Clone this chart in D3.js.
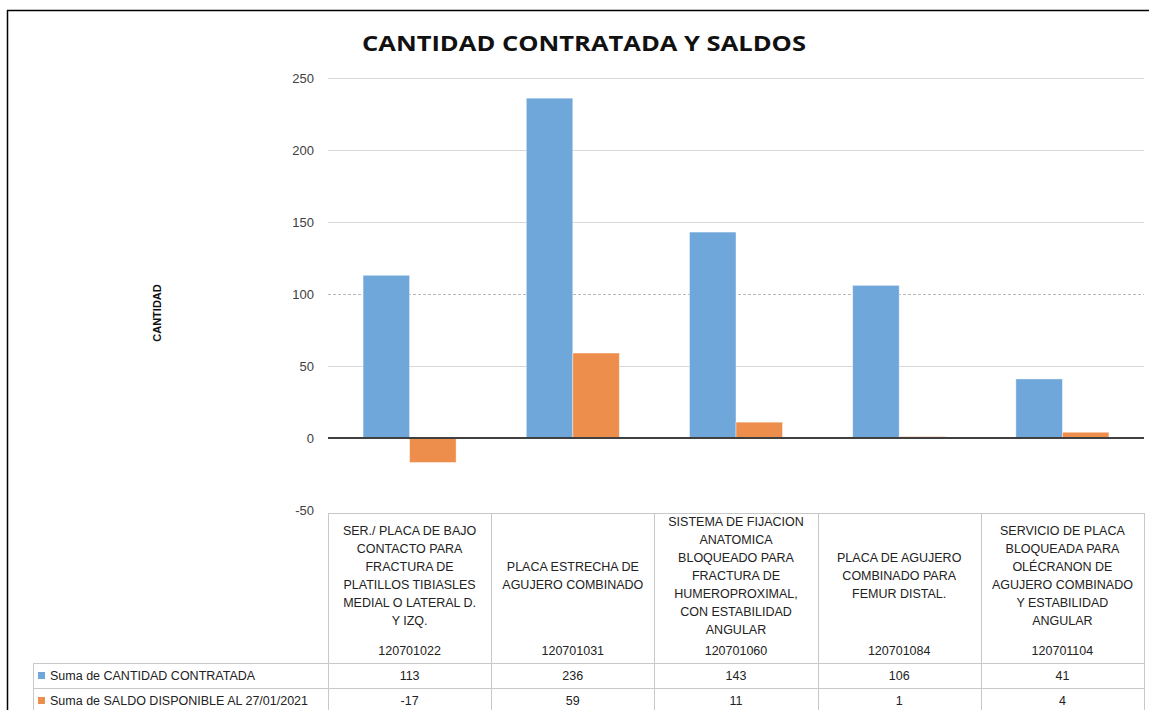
<!DOCTYPE html>
<html>
<head>
<meta charset="utf-8">
<script src="https://cdn.jsdelivr.net/npm/d3@7"></script>
<style>
  body { margin: 0; background: #fff; }
  svg { display: block; }
  .tick-label { font-family: 'Liberation Sans', Arial, sans-serif; font-size: 13px; fill: #404040; }
  .cell { font-family: 'Liberation Sans Narrow', 'Arial Narrow', 'Liberation Sans', sans-serif; font-size: 12.5px; fill: #222; }
</style>
</head>
<body>
<div id="chart"></div>
<script>
// Data
const codes = ['120701022', '120701031', '120701060', '120701084', '120701104'];
const descriptions = [
  ['SER./ PLACA DE BAJO', 'CONTACTO PARA', 'FRACTURA DE', 'PLATILLOS TIBIASLES', 'MEDIAL O LATERAL  D.', 'Y IZQ.'],
  ['PLACA ESTRECHA DE', 'AGUJERO COMBINADO'],
  ['SISTEMA DE FIJACION', 'ANATOMICA', 'BLOQUEADO PARA', 'FRACTURA DE', 'HUMEROPROXIMAL,', 'CON ESTABILIDAD', 'ANGULAR'],
  ['PLACA DE AGUJERO', 'COMBINADO PARA', 'FEMUR DISTAL.'],
  ['SERVICIO DE PLACA', 'BLOQUEADA PARA', 'OLÉCRANON DE', 'AGUJERO COMBINADO', 'Y ESTABILIDAD', 'ANGULAR'],
];
const seriesNames = ['Suma de CANTIDAD CONTRATADA', 'Suma de SALDO DISPONIBLE AL 27/01/2021'];
const contratada = [113, 236, 143, 106, 41];
const saldo = [-17, 59, 11, 1, 4];
const yTicks = [-50, 0, 50, 100, 150, 200, 250];
const colors = ['#70A7DB', '#EE8E4D'];

const width = 1149;
const height = 710;
const plot = { l: 328, r: 1144, t: 78, b: 510 };

const svg = d3.select('#chart').append('svg')
  .attr('width', width)
  .attr('height', height);

// outer frame (only top and left visible)
svg.append('line').attr('x1', 7).attr('x2', width).attr('y1', 10.5).attr('y2', 10.5)
  .attr('stroke', '#000').attr('stroke-width', 1.5);
svg.append('line').attr('x1', 7.5).attr('x2', 7.5).attr('y1', 10).attr('y2', height)
  .attr('stroke', '#000').attr('stroke-width', 1.5);

// title
svg.append('text')
  .attr('x', 584)
  .attr('y', 51)
  .attr('text-anchor', 'middle')
  .attr('textLength', 444)
  .attr('lengthAdjust', 'spacingAndGlyphs')
  .style('font-family', "'Open Sans', 'Liberation Sans', sans-serif")
  .style('font-weight', 'bold')
  .style('font-size', '22px')
  .style('fill', '#111')
  .text('CANTIDAD CONTRATADA Y SALDOS');

// y-axis name
svg.append('text')
  .attr('transform', `translate(161, 313)rotate(-90)`)
  .attr('text-anchor', 'middle')
  .style('font-family', "'Liberation Sans', Arial, sans-serif")
  .style('font-weight', 'bold')
  .style('font-size', '11px')
  .style('fill', '#111')
  .text('CANTIDAD');

// scales
const x0 = d3.scaleBand().domain(codes).range([plot.l, plot.r]).padding(0);
const bw = x0.bandwidth();
const x1 = d3.scaleBand().domain([0, 1]).range([bw * 0.215, bw * 0.785]).padding(0);
const y = d3.scaleLinear().domain([-50, 250]).range([plot.b, plot.t]);

// gridlines
const grid = svg.append('g');
grid.selectAll('line')
  .data(yTicks.filter((d) => d > 0))
  .join('line')
  .attr('x1', plot.l)
  .attr('x2', plot.r)
  .attr('y1', (d) => Math.round(y(d)) + 0.5)
  .attr('y2', (d) => Math.round(y(d)) + 0.5)
  .attr('stroke', (d) => (d === 100 ? '#b8b8b8' : '#dadada'))
  .attr('stroke-dasharray', (d) => (d === 100 ? '3,2' : null))
  .attr('stroke-width', 1);

// y tick labels
svg.append('g').selectAll('text')
  .data(yTicks)
  .join('text')
  .attr('class', 'tick-label')
  .attr('x', 314)
  .attr('y', (d) => y(d) + 5)
  .attr('text-anchor', 'end')
  .text((d) => d);

// bars
const rows = codes.map((c, i) => ({ code: c, values: [contratada[i], saldo[i]] }));
const groups = svg.append('g').selectAll('g')
  .data(rows)
  .join('g')
  .attr('transform', (d) => `translate(${x0(d.code)},0)`);

groups.selectAll('rect')
  .data((d) => d.values.map((v, k) => ({ v, k })))
  .join('rect')
  .attr('x', (d) => x1(d.k))
  .attr('width', x1.bandwidth())
  .attr('y', (d) => y(Math.max(0, d.v)))
  .attr('height', (d) => Math.abs(y(d.v) - y(0)))
  .attr('fill', (d) => colors[d.k])
  .attr('stroke', '#fff')
  .attr('stroke-opacity', 0.5)
  .attr('stroke-width', 0.8);

// zero line
svg.append('line')
  .attr('x1', plot.l).attr('x2', plot.r)
  .attr('y1', y(0)).attr('y2', y(0))
  .attr('stroke', '#404040')
  .attr('stroke-width', 2);

// data table
const tableTop = 513;
const row1 = 663;
const row2 = 688;
const tableLeft = 33;
const gridColor = '#c8c8c8';
const table = svg.append('g');

// vertical lines
table.selectAll('line.v')
  .data(d3.range(codes.length + 1))
  .join('line')
  .attr('class', 'v')
  .attr('x1', (i) => Math.round(plot.l + i * bw) + 0.5)
  .attr('x2', (i) => Math.round(plot.l + i * bw) + 0.5)
  .attr('y1', tableTop)
  .attr('y2', height)
  .attr('stroke', gridColor);
table.append('line')
  .attr('x1', tableLeft + 0.5).attr('x2', tableLeft + 0.5)
  .attr('y1', row1).attr('y2', height)
  .attr('stroke', gridColor);
// horizontal lines
table.append('line')
  .attr('x1', plot.l).attr('x2', plot.r + 1)
  .attr('y1', tableTop + 0.5).attr('y2', tableTop + 0.5)
  .attr('stroke', gridColor);
[row1, row2].forEach((yy) => {
  table.append('line')
    .attr('x1', tableLeft).attr('x2', plot.r + 1)
    .attr('y1', yy + 0.5).attr('y2', yy + 0.5)
    .attr('stroke', gridColor);
});

// category descriptions
const lh = 18;
codes.forEach((c, i) => {
  const cx = x0(c) + bw / 2;
  const lines = descriptions[i];
  const startY = 576 - ((lines.length - 1) * lh) / 2;
  table.append('g').selectAll('text')
    .data(lines)
    .join('text')
    .attr('class', 'cell')
    .attr('x', cx)
    .attr('y', (d, k) => startY + k * lh + 4)
    .attr('text-anchor', 'middle')
    .text((d) => d);
  table.append('text')
    .attr('class', 'cell')
    .attr('x', cx)
    .attr('y', 655)
    .attr('text-anchor', 'middle')
    .text(c);
});

// value rows
const valueRows = [contratada, saldo];
valueRows.forEach((vals, r) => {
  const yy = (r === 0 ? row1 : row2) + 17;
  table.append('rect')
    .attr('x', 38)
    .attr('y', yy - 8)
    .attr('width', 7)
    .attr('height', 7)
    .attr('fill', colors[r]);
  table.append('text')
    .attr('class', 'cell')
    .attr('x', 50)
    .attr('y', yy)
    .text(seriesNames[r]);
  table.append('g').selectAll('text')
    .data(vals)
    .join('text')
    .attr('class', 'cell')
    .attr('x', (d, i) => x0(codes[i]) + bw / 2)
    .attr('y', yy)
    .attr('text-anchor', 'middle')
    .text((d) => d);
});
</script>
</body>
</html>
